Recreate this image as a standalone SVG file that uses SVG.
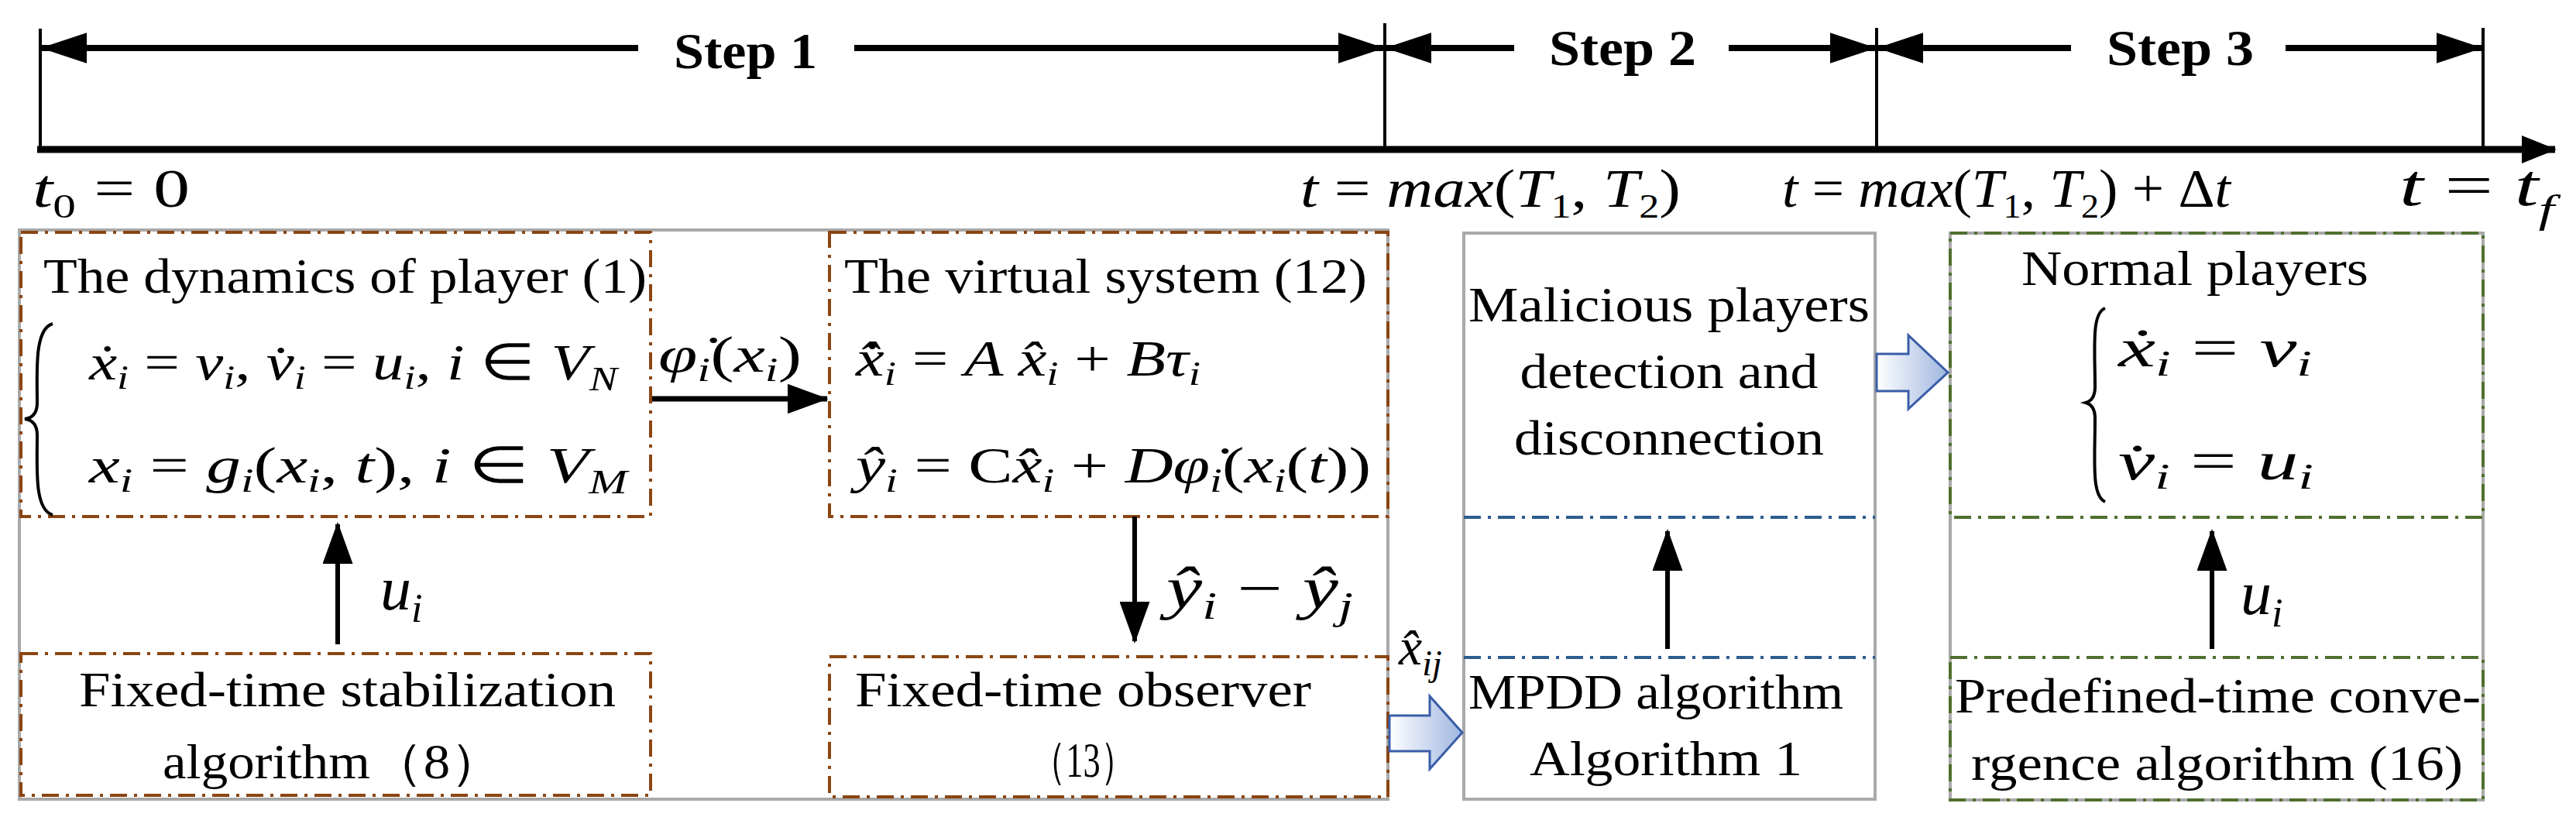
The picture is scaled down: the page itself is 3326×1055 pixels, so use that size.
<svg xmlns="http://www.w3.org/2000/svg" width="3326" height="1055" viewBox="0 0 3326 1055">
<style>
.t{font-family:"Liberation Serif","Times New Roman",serif;font-size:64px;fill:#000}
.b{font-family:"Liberation Serif","Times New Roman",serif;font-size:66px;font-weight:bold;fill:#000}
.m{font-family:"Liberation Serif","Times New Roman",serif;font-style:italic;fill:#000}
.r{font-style:normal}
.gray{fill:none;stroke:#a9a9a9;stroke-width:4}
.or{fill:none;stroke:#8b4513;stroke-width:4;stroke-dasharray:22 9 4 9}
.gr{fill:none;stroke:#4f6f2f;stroke-width:4;stroke-dasharray:22 9 4 9}
.bl{fill:none;stroke:#2e5d8e;stroke-width:4;stroke-dasharray:22 9 4 9}
.ln{stroke:#000;fill:none}
.blk{fill:url(#bg);stroke:#3a5da8;stroke-width:3}
</style>
<defs>
<marker id="ah" markerWidth="9" markerHeight="6.5" refX="8.5" refY="3.25" orient="auto" markerUnits="strokeWidth"><path d="M0,0 L9,3.25 L0,6.5z" fill="#000"/></marker>
<marker id="ah2" markerWidth="5" markerHeight="4" refX="4.8" refY="2" orient="auto" markerUnits="strokeWidth"><path d="M0,0 L5,2 L0,4z" fill="#000"/></marker>
<marker id="ah3" markerWidth="7.5" markerHeight="5" refX="7.3" refY="2.5" orient="auto" markerUnits="strokeWidth"><path d="M0,0 L7.5,2.5 L0,5z" fill="#000"/></marker>
<marker id="ah4" markerWidth="7.5" markerHeight="5.5" refX="7.3" refY="2.75" orient="auto" markerUnits="strokeWidth"><path d="M0,0 L7.5,2.75 L0,5.5z" fill="#000"/></marker>
<linearGradient id="bg" x1="0" y1="0" x2="1" y2="0"><stop offset="0" stop-color="#ffffff"/><stop offset="1" stop-color="#9fb6e0"/></linearGradient>
</defs>

<g id="timeline">
<line class="ln" x1="48" y1="193" x2="3299" y2="193" stroke-width="9" marker-end="url(#ah2)"/>
<line class="ln" x1="52" y1="37" x2="52" y2="193" stroke-width="4"/>
<line class="ln" x1="1788" y1="30" x2="1788" y2="193" stroke-width="4"/>
<line class="ln" x1="2423" y1="36" x2="2423" y2="193" stroke-width="4"/>
<line class="ln" x1="3206" y1="36" x2="3206" y2="193" stroke-width="4"/>
<line class="ln" x1="824" y1="62" x2="54" y2="62" stroke-width="8" marker-end="url(#ah3)"/>
<line class="ln" x1="1103" y1="62" x2="1786" y2="62" stroke-width="8" marker-end="url(#ah3)"/>
<line class="ln" x1="1955" y1="62" x2="1790" y2="62" stroke-width="8" marker-end="url(#ah3)"/>
<line class="ln" x1="2232" y1="62" x2="2421" y2="62" stroke-width="8" marker-end="url(#ah3)"/>
<line class="ln" x1="2674" y1="62" x2="2425" y2="62" stroke-width="8" marker-end="url(#ah3)"/>
<line class="ln" x1="2951" y1="62" x2="3204" y2="62" stroke-width="8" marker-end="url(#ah3)"/>
<text class="b" x="870" y="88" textLength="185" lengthAdjust="spacingAndGlyphs">Step 1</text>
<text class="b" x="2000" y="84" textLength="190" lengthAdjust="spacingAndGlyphs">Step 2</text>
<text class="b" x="2720" y="84" textLength="190" lengthAdjust="spacingAndGlyphs">Step 3</text>
<text class="m" x="42" y="267" style="font-size:70px" textLength="203" lengthAdjust="spacingAndGlyphs">t<tspan font-size="44" dy="14" class="r">0</tspan><tspan dy="-14" class="r"> = 0</tspan></text>
<text class="m" x="1679" y="267" style="font-size:70px" textLength="491" lengthAdjust="spacingAndGlyphs">t <tspan class="r">=</tspan> max<tspan class="r">(</tspan>T<tspan font-size="44" dy="14" class="r">1</tspan><tspan dy="-14" class="r">, </tspan>T<tspan font-size="44" dy="14" class="r">2</tspan><tspan dy="-14" class="r">)</tspan></text>
<text class="m" x="2301" y="267" style="font-size:70px" textLength="579" lengthAdjust="spacingAndGlyphs">t <tspan class="r">=</tspan> max<tspan class="r">(</tspan>T<tspan font-size="44" dy="14" class="r">1</tspan><tspan dy="-14" class="r">, </tspan>T<tspan font-size="44" dy="14" class="r">2</tspan><tspan dy="-14" class="r">) + Δ</tspan>t</text>
<text class="m" x="3098" y="265" style="font-size:76px" textLength="200" lengthAdjust="spacingAndGlyphs">t <tspan class="r">=</tspan> t<tspan font-size="50" dy="22">f</tspan></text>
</g>

<g id="step1-frame"><rect class="gray" x="25" y="297" width="1767" height="735"/></g>
<g id="step2-frame"><rect class="gray" x="1890" y="301" width="531" height="731"/></g>
<g id="step3-frame"><rect class="gray" x="2518" y="301" width="688" height="732"/></g>

<g id="dynamics">
<rect class="or" x="27" y="300" width="813" height="367"/>
<text class="t" x="56" y="378" textLength="779" lengthAdjust="spacingAndGlyphs">The dynamics of player (1)</text>
<path d="M68,418 C44,425 48,480 48,520 C48,535 40,540 32,541 C40,542 48,547 48,562 C48,605 44,658 68,665" stroke="#000" stroke-width="4" fill="none"/>
<text class="m" x="115" y="490" style="font-size:66px" textLength="682" lengthAdjust="spacingAndGlyphs">ẋ<tspan font-size="44" dy="12">i</tspan><tspan dy="-12" class="r"> = </tspan>v<tspan font-size="44" dy="12">i</tspan><tspan dy="-12" class="r">, </tspan>v̇<tspan font-size="44" dy="12">i</tspan><tspan dy="-12" class="r"> = </tspan>u<tspan font-size="44" dy="12">i</tspan><tspan dy="-12" class="r">, </tspan>i<tspan class="r"> ∈ </tspan>V<tspan font-size="44" dy="14">N</tspan></text>
<text class="m" x="115" y="623" style="font-size:66px" textLength="695" lengthAdjust="spacingAndGlyphs">x<tspan font-size="44" dy="12">i</tspan><tspan dy="-12" class="r"> = </tspan>g<tspan font-size="44" dy="12">i</tspan><tspan dy="-12" class="r">(</tspan>x<tspan font-size="44" dy="12">i</tspan><tspan dy="-12" class="r">, </tspan>t<tspan class="r">),     </tspan>i<tspan class="r"> ∈ </tspan>V<tspan font-size="44" dy="14">M</tspan></text>
</g>

<g id="virtual">
<rect class="or" x="1071" y="300" width="721" height="367"/>
<text class="t" x="1090" y="378" textLength="675" lengthAdjust="spacingAndGlyphs">The virtual system (12)</text>
<text class="m" x="1105" y="485" style="font-size:66px" textLength="445" lengthAdjust="spacingAndGlyphs">x̂̇<tspan font-size="44" dy="12">i</tspan><tspan dy="-12" class="r"> = </tspan>A x̂<tspan font-size="44" dy="12">i</tspan><tspan dy="-12" class="r"> + </tspan>Bτ<tspan font-size="44" dy="12">i</tspan></text>
<text class="m" x="1105" y="623" style="font-size:66px" textLength="665" lengthAdjust="spacingAndGlyphs">ŷ<tspan font-size="44" dy="12">i</tspan><tspan dy="-12" class="r"> = C</tspan>x̂<tspan font-size="44" dy="12">i</tspan><tspan dy="-12" class="r"> + </tspan>Dφ̇<tspan font-size="44" dy="12">i</tspan><tspan dy="-12" class="r">(</tspan>x<tspan font-size="44" dy="12">i</tspan><tspan dy="-12" class="r">(</tspan>t<tspan class="r">))</tspan></text>
</g>

<g id="stabilization">
<rect class="or" x="27" y="844" width="813" height="183"/>
<text class="t" x="102" y="912" textLength="693" lengthAdjust="spacingAndGlyphs">Fixed-time stabilization</text>
<text class="t" x="210" y="1005" textLength="440" lengthAdjust="spacingAndGlyphs">algorithm（8）</text>
</g>

<g id="observer">
<rect class="or" x="1071" y="848" width="721" height="181"/>
<text class="t" x="1104" y="912" textLength="589" lengthAdjust="spacingAndGlyphs">Fixed-time observer</text>
<text class="t" x="1332" y="1003" textLength="133" lengthAdjust="spacingAndGlyphs">（13）</text>
</g>

<g id="detection">
<line class="bl" x1="1890" y1="668" x2="2421" y2="668"/>
<text class="t" x="2155" y="415" text-anchor="middle" textLength="518" lengthAdjust="spacingAndGlyphs">Malicious players</text>
<text class="t" x="2155" y="501" text-anchor="middle" textLength="385" lengthAdjust="spacingAndGlyphs">detection and</text>
<text class="t" x="2155" y="587" text-anchor="middle" textLength="400" lengthAdjust="spacingAndGlyphs">disconnection</text>
</g>

<g id="mpdd">
<line class="bl" x1="1890" y1="849" x2="2421" y2="849"/>
<text class="t" x="1896" y="915" textLength="484" lengthAdjust="spacingAndGlyphs">MPDD algorithm</text>
<text class="t" x="1975" y="1001" textLength="352" lengthAdjust="spacingAndGlyphs">Algorithm 1</text>
</g>

<g id="normal">
<rect class="gr" x="2518" y="301" width="688" height="367"/>
<text class="t" x="2610" y="368" textLength="448" lengthAdjust="spacingAndGlyphs">Normal players</text>
<path d="M2718,398 C2700,405 2705,450 2705,500 C2705,512 2700,518 2693,520 C2700,522 2705,528 2705,540 C2705,595 2700,640 2718,648" stroke="#000" stroke-width="4" fill="none"/>
<text class="m" x="2735" y="473" style="font-size:70px" textLength="250" lengthAdjust="spacingAndGlyphs">ẋ<tspan font-size="46" dy="12">i</tspan><tspan dy="-12" class="r"> = </tspan>v<tspan font-size="46" dy="12">i</tspan></text>
<text class="m" x="2735" y="619" style="font-size:70px" textLength="252" lengthAdjust="spacingAndGlyphs">v̇<tspan font-size="46" dy="12">i</tspan><tspan dy="-12" class="r"> = </tspan>u<tspan font-size="46" dy="12">i</tspan></text>
</g>

<g id="predefined">
<rect class="gr" x="2518" y="849" width="688" height="184"/>
<text class="t" x="2524" y="920" textLength="679" lengthAdjust="spacingAndGlyphs">Predefined-time conve-</text>
<text class="t" x="2545" y="1007" textLength="635" lengthAdjust="spacingAndGlyphs">rgence algorithm (16)</text>
</g>

<g id="connectors">
<line class="ln" x1="842" y1="515" x2="1068" y2="515" stroke-width="7" marker-end="url(#ah4)"/>
<text class="m" x="850" y="480" style="font-size:66px" textLength="185" lengthAdjust="spacingAndGlyphs">φ̇<tspan font-size="44" dy="12">i</tspan><tspan dy="-12" class="r">(</tspan>x<tspan font-size="44" dy="12">i</tspan><tspan dy="-12" class="r">)</tspan></text>
<line class="ln" x1="436" y1="832" x2="436" y2="677" stroke-width="6" marker-end="url(#ah)"/>
<text class="m" x="491" y="787" style="font-size:80px">u<tspan font-size="52" dy="16">i</tspan></text>
<line class="ln" x1="1465" y1="667" x2="1465" y2="828" stroke-width="6" marker-end="url(#ah)"/>
<text class="m" x="1506" y="785" style="font-size:76px" textLength="241" lengthAdjust="spacingAndGlyphs">ŷ<tspan font-size="50" dy="14">i</tspan><tspan dy="-14" class="r"> − </tspan>ŷ<tspan font-size="50" dy="14">j</tspan></text>
<line class="ln" x1="2153" y1="838" x2="2153" y2="686" stroke-width="6" marker-end="url(#ah)"/>
<line class="ln" x1="2856" y1="838" x2="2856" y2="686" stroke-width="6" marker-end="url(#ah)"/>
<text class="m" x="2893" y="793" style="font-size:80px">u<tspan font-size="52" dy="16">i</tspan></text>
<text class="m" x="1806" y="858" style="font-size:68px">x̂<tspan font-size="46" dy="14">ij</tspan></text>
<path class="blk" d="M1794,924 H1846 V899 L1888,946 L1846,993 V970 H1794 Z"/>
<path class="blk" d="M2423,457 H2464 V433 L2515,481 L2464,528 V505 H2423 Z"/>
</g>
</svg>
